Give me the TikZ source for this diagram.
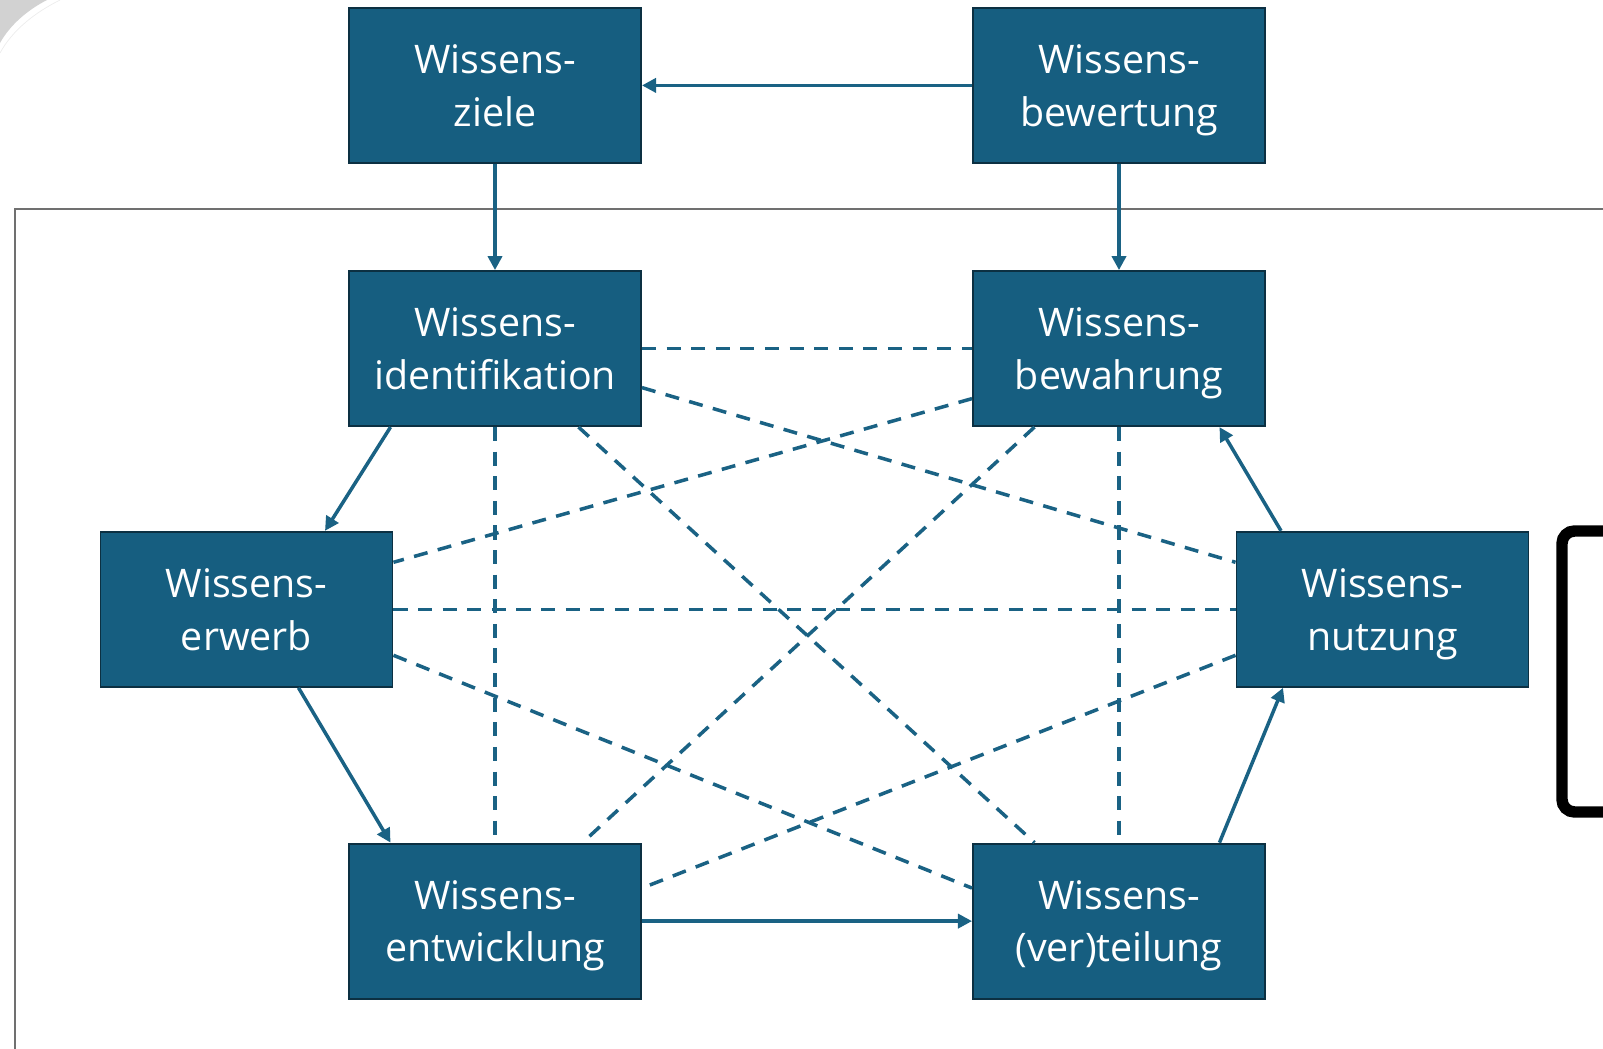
\documentclass[tikz,border=0pt]{standalone}
\usepackage{fontspec}
\setmainfont{Open Sans}
\usetikzlibrary{positioning, arrows.meta}
\definecolor{boxblue}{RGB}{22,94,128}
\definecolor{boxedge}{RGB}{12,48,66}
\definecolor{linkblue}{RGB}{26,98,132}
\definecolor{framegray}{RGB}{112,112,112}

\begin{document}
\begin{tikzpicture}[on grid, node distance=5.264cm,
        wbox/.style={rectangle, fill=boxblue, draw=boxedge, line width=1.1pt,
            minimum width=5.84cm, minimum height=3.1cm, inner sep=0pt, text depth=0pt,
            align=center, text=white, font=\fontsize{22.4}{30}\selectfont},
        flow/.style={color=linkblue, line width=2pt, -{Triangle[length=8pt, width=8pt]}},
        link/.style={color=linkblue, line width=2pt, dash pattern=on 8pt off 6pt}]
        \useasboundingbox (0,0) rectangle (32.06,-20.98);
        % background bits
        \fill[gray!35] (0,0) -- (0.94,0) .. controls (0.55,-0.2) and (0.2,-0.5) .. (0,-0.86) -- cycle;
        \draw[gray!15, line width=0.4pt] (1.2,0) .. controls (0.7,-0.25) and (0.25,-0.6) .. (0,-1.06);
        \draw[framegray, line width=1.1pt] (0.3,-20.98) -- (0.3,-4.18) -- (32.06,-4.18);
        \draw[line width=6.5pt, rounded corners=0.25cm] (32.3,-10.62) -- (31.24,-10.62) -- (31.24,-16.24) -- (32.3,-16.24);

        \node[wbox] (ziele) at (9.9,-1.708) {Wissens-\\ziele};
        \node[wbox] (bewertung) [right=12.48cm of ziele] {Wissens-\\bewertung};
        \node[wbox] (ident) [below=of ziele] {Wissens-\\identifikation};
        \node[wbox] (bewahr) [below=of bewertung] {Wissens-\\bewahrung};
        \node[wbox] (erwerb) [below left=5.214cm and 4.97cm of ident] {Wissens-\\erwerb};
        \node[wbox] (nutzung) [below right=5.214cm and 5.27cm of bewahr] {Wissens-\\nutzung};
        \node[wbox] (entw) [below=11.45cm of ident] {Wissens-\\entwicklung};
        \node[wbox] (verteil) [right=12.48cm of entw] {Wissens-\\(ver)teilung};

        \path[flow]
        (bewertung) edge (ziele)
        (ziele) edge (ident)
        (bewertung) edge (bewahr)
        ([xshift=0.85cm]ident.south west) edge ([xshift=1.57cm]erwerb.north)
        ([xshift=1.04cm]erwerb.south) edge ([xshift=0.85cm]entw.north west)
        (entw) edge (verteil)
        ([xshift=-0.93cm]verteil.north east) edge ([xshift=0.95cm]nutzung.south west)
        ([xshift=0.91cm]nutzung.north west) edge ([xshift=-0.93cm]bewahr.south east);

        \path[link]
        (ident.east) edge (bewahr.west)
        ([yshift=-0.78cm]ident.east) edge ([yshift=0.94cm]nutzung.west)
        (ident.south) edge (entw.north)
        ([xshift=1.67cm]ident.south) edge ([xshift=-1.69cm]verteil.north)
        ([yshift=-1.0cm]bewahr.west) edge ([yshift=0.94cm]erwerb.east)
        ([xshift=-1.69cm]bewahr.south) edge ([xshift=1.75cm]entw.north)
        (bewahr.south) edge (verteil.north)
        (erwerb.east) edge (nutzung.west)
        ([yshift=-0.92cm]erwerb.east) edge ([yshift=0.66cm]verteil.west)
        ([yshift=-0.92cm]nutzung.west) edge ([yshift=0.66cm]entw.east);
    \end{tikzpicture}
\end{document}
